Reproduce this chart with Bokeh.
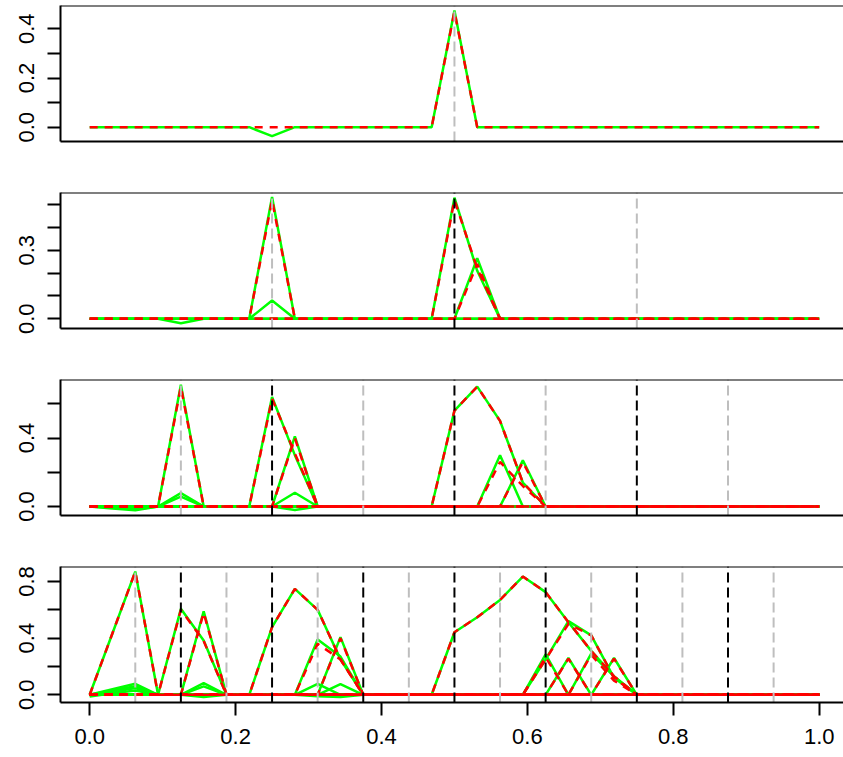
import numpy as np
from bokeh.plotting import figure
from bokeh.layouts import column
from bokeh.models import Range1d, FixedTicker, Span, PrintfTickFormatter
from bokeh.embed import file_html
from bokeh.resources import INLINE

# ---------------- data ----------------
N_POINTS = 33
x_grid = [i / 32 for i in range(N_POINTS)]

# each series given as {grid index: value}; all other grid values are 0
p1_green = [{8: -0.036, 16: 0.474}]
p1_red = [{16: 0.47}]
p1_gray_v = [0.5]
p1_black_v = []

p2_green = [{8: 0.533}, {4: -0.019, 8: 0.08}, {16: 0.53, 17: 0.21}, {17: 0.265}]
p2_red = [{8: 0.52}, {16: 0.52, 17: 0.22}, {17: 0.24}]
p2_gray_v = [0.25, 0.75]
p2_black_v = [0.5]

p3_green = [{4: 0.711}, {1: -0.012, 2: -0.022, 4: 0.078}, {1: -0.008, 2: -0.016, 4: 0.058},
            {8: 0.64, 9: 0.30}, {9: 0.41}, {9: 0.08}, {9: -0.02},
            {16: 0.56, 17: 0.70, 18: 0.50, 19: 0.14}, {18: 0.30}, {19: 0.27}]
p3_red = [{4: 0.70}, {8: 0.63, 9: 0.31}, {9: 0.40},
          {16: 0.56, 17: 0.70, 18: 0.50, 19: 0.14}, {18: 0.26, 19: 0.12}, {19: 0.26}]
p3_gray_v = [0.125, 0.375, 0.625, 0.875]
p3_black_v = [0.25, 0.5, 0.75]

p4_green = [{1: 0.435, 2: 0.87},
            {1: 0.039, 2: 0.078}, {1: 0.03, 2: 0.061}, {0: -0.005, 1: 0.02, 2: 0.047}, {0: -0.012, 1: 0.01, 2: 0.031},
            {4: 0.607, 5: 0.384}, {5: 0.59}, {5: 0.082}, {5: 0.06}, {5: -0.016},
            {8: 0.478, 9: 0.748, 10: 0.60, 11: 0.25}, {10: 0.39, 11: 0.27}, {11: 0.407},
            {10: 0.078}, {11: 0.075}, {10: -0.01, 11: -0.015},
            {16: 0.442, 17: 0.548, 18: 0.67, 19: 0.835, 20: 0.725, 21: 0.513, 22: 0.31, 23: 0.13},
            {20: 0.25, 21: 0.52, 22: 0.42, 23: 0.12},
            {20: 0.285}, {21: 0.26}, {22: 0.29, 23: 0.13}, {23: 0.26}]
p4_red = [{1: 0.435, 2: 0.87},
          {4: 0.60, 5: 0.38}, {5: 0.58},
          {8: 0.478, 9: 0.748, 10: 0.60, 11: 0.25}, {10: 0.36, 11: 0.25}, {11: 0.40},
          {16: 0.442, 17: 0.548, 18: 0.67, 19: 0.835, 20: 0.725, 21: 0.513, 22: 0.31, 23: 0.13},
          {20: 0.25, 21: 0.50, 22: 0.42, 23: 0.12},
          {20: 0.266}, {21: 0.255}, {22: 0.283, 23: 0.10}, {23: 0.255}]
p4_gray_v = [1 / 16, 3 / 16, 5 / 16, 7 / 16, 9 / 16, 11 / 16, 13 / 16, 15 / 16]
p4_black_v = [0.125, 0.25, 0.375, 0.5, 0.625, 0.75, 0.875]

y_ticks_labeled = [[0.0, 0.2, 0.4], [0.0, 0.3], [0.0, 0.4], [0.0, 0.4, 0.8]]
y_ticks_unlabeled = [[0.1, 0.3], [0.1, 0.2, 0.4, 0.5], [0.2, 0.6], [0.2, 0.6]]
y_limits = [(-0.0581, 0.4947), (-0.0424, 0.5525), (-0.0526, 0.7418), (-0.0544, 0.906)]
x_tick_values = [0.0, 0.2, 0.4, 0.6, 0.8, 1.0]

FONT = "Liberation Sans"
GREEN = "#00FF00"
RED = "#FF0000"
GRAY = "#BEBEBE"


def dense(d):
    y = [0.0] * N_POINTS
    for k, v in d.items():
        y[k] = v
    return y


def make_panel(idx, green, red, gray_v, black_v, last):
    y0, y1 = y_limits[idx]
    h = 196 if last else 187
    bottom = 55 if last else 46
    p = figure(width=843, height=h, x_range=Range1d(-0.04, 1.0333), y_range=Range1d(y0, y1),
               output_backend="svg", toolbar_location=None,
               min_border_left=60, min_border_right=0, min_border_top=5, min_border_bottom=bottom)
    p.outline_line_color = None
    p.grid.visible = False
    p.background_fill_color = "white"
    p.border_fill_color = "white"

    for g in green:
        p.line(x_grid, dense(g), line_color=GREEN, line_width=2.5)
    for r in red:
        p.line(x_grid, dense(r), line_color=RED, line_width=2.5, line_dash="8 7")
    if gray_v:
        p.segment(x0=gray_v, x1=gray_v, y0=[y0] * len(gray_v), y1=[y1] * len(gray_v),
                  line_color=GRAY, line_width=2, line_dash="10 5")
    if black_v:
        p.segment(x0=black_v, x1=black_v, y0=[y0] * len(black_v), y1=[y1] * len(black_v),
                  line_color="black", line_width=2, line_dash="10 5")

    # y axis
    ya = p.yaxis[0]
    ya.ticker = FixedTicker(ticks=y_ticks_labeled[idx], minor_ticks=y_ticks_unlabeled[idx])
    ya.formatter = PrintfTickFormatter(format="%.1f")
    ya.axis_line_width = 2
    ya.axis_line_color = "black"
    ya.major_tick_out = 13
    ya.major_tick_in = 0
    ya.minor_tick_out = 13
    ya.minor_tick_in = 0
    ya.major_tick_line_width = 2
    ya.minor_tick_line_width = 2
    ya.minor_tick_line_color = "black"
    ya.major_label_orientation = "vertical"
    ya.major_label_standoff = 13
    ya.major_label_text_font = FONT
    ya.major_label_text_font_size = "22px"
    ya.major_label_text_color = "black"

    # x axis
    xa = p.xaxis[0]
    xa.axis_line_width = 2
    xa.axis_line_color = "black"
    if last:
        xa.ticker = FixedTicker(ticks=x_tick_values, minor_ticks=[])
        xa.formatter = PrintfTickFormatter(format="%.1f")
        xa.major_tick_out = 13
        xa.major_tick_in = 0
        xa.major_tick_line_width = 2
        xa.major_label_standoff = 13
        xa.major_label_text_font = FONT
        xa.major_label_text_font_size = "22px"
        xa.major_label_text_color = "black"
    else:
        xa.ticker = FixedTicker(ticks=[], minor_ticks=[])
        xa.major_tick_line_color = None
        xa.minor_tick_line_color = None
        xa.major_label_text_font_size = "0px"

    # top frame edge
    p.add_layout(Span(location=y1, dimension="width", line_color="black", line_width=2))
    return p


panels = [
    make_panel(0, p1_green, p1_red, p1_gray_v, p1_black_v, False),
    make_panel(1, p2_green, p2_red, p2_gray_v, p2_black_v, False),
    make_panel(2, p3_green, p3_red, p3_gray_v, p3_black_v, False),
    make_panel(3, p4_green, p4_red, p4_gray_v, p4_black_v, True),
]

layout = column(*panels, spacing=0)
open("out.html", "w").write(file_html(layout, INLINE))
